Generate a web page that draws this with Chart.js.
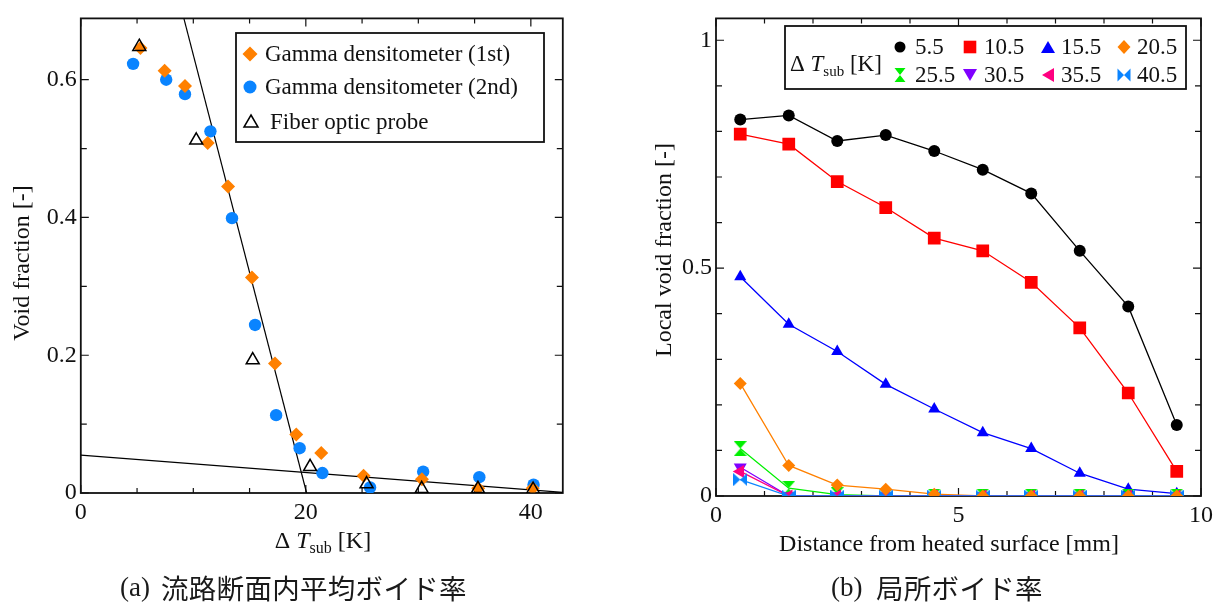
<!DOCTYPE html>
<html><head><meta charset="utf-8">
<script src="https://cdn.jsdelivr.net/npm/chart.js@4.4.0/dist/chart.umd.min.js"></script>
<style>
html,body{margin:0;padding:0;background:#fff;width:1218px;height:603px;overflow:hidden}
#wa{position:absolute;left:0;top:0;width:609px;height:603px}
#wb{position:absolute;left:609px;top:0;width:609px;height:603px}
.cap{position:absolute;top:570px;white-space:nowrap;line-height:34px;color:#1a1a1a}
.l{font-family:"Liberation Serif";font-size:27px}
.j{font-family:"Noto Sans CJK JP";font-size:27.5px;letter-spacing:0.3px}
</style></head><body>
<div id="wa"><canvas id="ca" width="609" height="603"></canvas></div>
<div id="wb"><canvas id="cb" width="609" height="603"></canvas></div>
<div class="cap l" style="left:120px">(a)</div>
<div class="cap j" style="left:161px">流路断面内平均ボイド率</div>
<div class="cap l" style="left:831px">(b)</div>
<div class="cap j" style="left:876px">局所ボイド率</div>
<script>
// ---------- Data: chart (a) ----------
const gamma1X = [5.3, 7.45, 9.26, 11.28, 13.09, 15.21, 17.26, 19.15, 21.37, 25.13, 30.32, 35.32, 40.17];
const gamma1Y = [0.646, 0.613, 0.591, 0.508, 0.445, 0.313, 0.188, 0.085, 0.058, 0.025, 0.020, 0.007, 0.007];
const gamma2X = [4.65, 7.59, 9.26, 11.52, 13.44, 15.49, 17.36, 19.45, 21.47, 25.71, 30.43, 35.42, 40.24];
const gamma2Y = [0.623, 0.600, 0.579, 0.525, 0.399, 0.244, 0.113, 0.065, 0.029, 0.008, 0.031, 0.023, 0.012];
const fiberX = [5.2, 10.26, 15.28, 20.38, 25.4, 30.3, 35.3, 40.2];
const fiberY = [0.648, 0.512, 0.193, 0.038, 0.013, 0.006, 0.006, 0.005];
const steepX = [9.16, 20.07];
const steepY = [0.689, 0];
const shallowX = [0, 42.84];
const shallowY = [0.055, 0.001];
const aXTicks = [0, 20, 40];
const aXMinor = [5, 10, 15, 25, 30, 35];
const aYTicks = [0, 0.2, 0.4, 0.6];
const aYMinor = [0.1, 0.3, 0.5];
const aLegend = ["Gamma densitometer (1st)", "Gamma densitometer (2nd)", "Fiber optic probe"];

// ---------- Data: chart (b) ----------
const distance = [0.5, 1.5, 2.5, 3.5, 4.5, 5.5, 6.5, 7.5, 8.5, 9.5];
const dT = ["5.5", "10.5", "15.5", "20.5", "25.5", "30.5", "35.5", "40.5"];
const v5_5  = [0.826, 0.835, 0.779, 0.792, 0.757, 0.716, 0.664, 0.538, 0.416, 0.156];
const v10_5 = [0.794, 0.772, 0.690, 0.633, 0.566, 0.538, 0.469, 0.369, 0.226, 0.054];
const v15_5 = [0.481, 0.377, 0.317, 0.245, 0.191, 0.139, 0.104, 0.050, 0.015, 0.005];
const v20_5 = [0.247, 0.067, 0.024, 0.015, 0.004, 0, 0, 0, 0, 0];
const v25_5 = [0.104, 0.017, 0.003, 0, 0, 0, 0, 0, 0, 0];
const v30_5 = [0.063, 0, 0, 0, 0, 0, 0, 0, 0, 0];
const v35_5 = [0.054, 0, 0, 0, 0, 0, 0, 0, 0, 0];
const v40_5 = [0.036, 0, 0, 0, 0, 0, 0, 0, 0, 0];
const bXTicks = [0, 5, 10];
const bXMinor = [1, 2, 3, 4, 6, 7, 8, 9];
const bYTicks = [0, 0.5, 1];
const bYMinor = [0.1, 0.2, 0.3, 0.4, 0.6, 0.7, 0.8, 0.9];

// ---------- helpers ----------
const SERIF = '"Liberation Serif", "Times New Roman", serif';
const INK = '#111';
const fmt = v => String(Math.round(v * 100) / 100);
const pts = (xs, ys) => xs.map((x, i) => ({x, y: ys[i]}));

function markerPath(ctx, type, x, y, hw, hh) {
  hh = hh || hw;
  ctx.beginPath();
  switch (type) {
    case 'circle': ctx.arc(x, y, hw, 0, Math.PI * 2); break;
    case 'square': ctx.rect(x - hw, y - hh, 2 * hw, 2 * hh); break;
    case 'diamond': ctx.moveTo(x, y - hh); ctx.lineTo(x + hw, y); ctx.lineTo(x, y + hh); ctx.lineTo(x - hw, y); ctx.closePath(); break;
    case 'tri': ctx.moveTo(x, y - hh); ctx.lineTo(x + hw, y + hh * 0.5); ctx.lineTo(x - hw, y + hh * 0.5); ctx.closePath(); break;
    case 'triDown': ctx.moveTo(x, y + hh); ctx.lineTo(x + hw, y - hh * 0.5); ctx.lineTo(x - hw, y - hh * 0.5); ctx.closePath(); break;
    case 'triLeft': ctx.moveTo(x - hw, y); ctx.lineTo(x + hw * 0.5, y - hh); ctx.lineTo(x + hw * 0.5, y + hh); ctx.closePath(); break;
    case 'hourglass': ctx.moveTo(x - hw, y - hh); ctx.lineTo(x + hw, y - hh); ctx.lineTo(x - hw, y + hh); ctx.lineTo(x + hw, y + hh); ctx.closePath(); break;
    case 'bowtie': ctx.moveTo(x - hw, y - hh); ctx.lineTo(x - hw, y + hh); ctx.lineTo(x + hw, y - hh); ctx.lineTo(x + hw, y + hh); ctx.closePath(); break;
  }
}
function markerImg(type, w, h, color) {
  const c = document.createElement('canvas');
  c.width = w; c.height = h;
  const g = c.getContext('2d');
  g.fillStyle = color;
  markerPath(g, type, w / 2, h / 2, w / 2, h / 2);
  g.fill();
  return c;
}
function drawDT(ctx, x, baseline, size, align) {
  const parts = [
    {t: 'Δ ', f: `${size}px ${SERIF}`, dy: 0},
    {t: 'T', f: `italic ${size}px ${SERIF}`, dy: 0},
    {t: 'sub', f: `${Math.round(size * 0.65)}px ${SERIF}`, dy: size * 0.22},
    {t: ' [K]', f: `${size}px ${SERIF}`, dy: 0}
  ];
  let total = 0;
  parts.forEach(p => { ctx.font = p.f; p.w = ctx.measureText(p.t).width; total += p.w; });
  let cx = align === 'center' ? x - total / 2 : x;
  ctx.textAlign = 'left'; ctx.textBaseline = 'alphabetic';
  parts.forEach(p => { ctx.font = p.f; ctx.fillText(p.t, cx, baseline + p.dy); cx += p.w; });
}
function frameTicksPlugin(xMaj, xMin, yMaj, yMin) {
  return {
    id: 'frameTicks',
    beforeDatasetsDraw(chart) {
      const {ctx, chartArea: a, scales: {x, y}} = chart;
      ctx.save();
      ctx.strokeStyle = INK; ctx.lineWidth = 1.2;
      const tx = (vals, len) => vals.forEach(v => {
        const p = x.getPixelForValue(v);
        ctx.beginPath(); ctx.moveTo(p, a.bottom); ctx.lineTo(p, a.bottom - len);
        ctx.moveTo(p, a.top); ctx.lineTo(p, a.top + len); ctx.stroke();
      });
      const ty = (vals, len) => vals.forEach(v => {
        const p = y.getPixelForValue(v);
        ctx.beginPath(); ctx.moveTo(a.left, p); ctx.lineTo(a.left + len, p);
        ctx.moveTo(a.right, p); ctx.lineTo(a.right - len, p); ctx.stroke();
      });
      tx(xMaj, 8); tx(xMin, 5); ty(yMaj, 8); ty(yMin, 6);
      ctx.lineWidth = 1.8;
      ctx.strokeRect(a.left, a.top, a.right - a.left, a.bottom - a.top);
      ctx.restore();
    }
  };
}
function scaleCfg(min, max, ticks, size, afterFit, pad) {
  return {
    type: 'linear', min, max,
    grid: {display: false, drawTicks: false}, border: {display: false},
    afterBuildTicks: s => { s.ticks = ticks.map(v => ({value: v})); },
    afterFit,
    ticks: {padding: pad, color: INK, font: {family: SERIF, size}, maxRotation: 0, autoSkip: false, callback: fmt}
  };
}

// ---------- Chart (a) ----------
const textA = {
  id: 'textA',
  afterDatasetsDraw(chart) {
    const ctx = chart.ctx;
    ctx.save();
    ctx.fillStyle = INK;
    ctx.save(); ctx.translate(23, 263); ctx.rotate(-Math.PI / 2);
    ctx.font = `24px ${SERIF}`; ctx.textAlign = 'center'; ctx.textBaseline = 'middle';
    ctx.fillText('Void fraction [-]', 0, 0); ctx.restore();
    drawDT(ctx, 323, 548, 24, 'center');
    ctx.fillStyle = '#fff'; ctx.fillRect(236, 33, 308, 109);
    ctx.strokeStyle = INK; ctx.lineWidth = 1.8; ctx.strokeRect(236, 33, 308, 109);
    ctx.fillStyle = '#FF8000'; markerPath(ctx, 'diamond', 250, 54, 7.5, 7.5); ctx.fill();
    ctx.fillStyle = '#0A84FF'; markerPath(ctx, 'circle', 250, 87, 6.5); ctx.fill();
    ctx.strokeStyle = '#000'; ctx.lineWidth = 1.5; markerPath(ctx, 'tri', 251, 123, 7, 8); ctx.stroke();
    ctx.fillStyle = INK; ctx.font = `23px ${SERIF}`; ctx.textAlign = 'left'; ctx.textBaseline = 'alphabetic';
    ctx.fillText(aLegend[0], 265, 61);
    ctx.fillText(aLegend[1], 265, 94);
    ctx.fillText(aLegend[2], 270, 129);
    ctx.restore();
  }
};
new Chart(document.getElementById('ca'), {
  type: 'scatter',
  data: {datasets: [
    {data: pts(fiberX, fiberY), pointStyle: 'triangle', pointRadius: 7.5, backgroundColor: 'rgba(0,0,0,0)', borderColor: '#000', pointBorderWidth: 1.5, order: 0},
    {data: pts(gamma1X, gamma1Y), pointStyle: 'rectRot', pointRadius: 7, backgroundColor: '#FF8000', borderColor: '#FF8000', pointBorderWidth: 0, order: 1},
    {data: pts(gamma2X, gamma2Y), pointStyle: 'circle', pointRadius: 6.2, backgroundColor: '#0A84FF', borderColor: '#0A84FF', pointBorderWidth: 0, order: 2},
    {data: pts(steepX, steepY), showLine: true, pointRadius: 0, borderColor: '#000', borderWidth: 1.2, order: 3},
    {data: pts(shallowX, shallowY), showLine: true, pointRadius: 0, borderColor: '#000', borderWidth: 1.2, order: 4}
  ]},
  options: {
    responsive: false, animation: false, events: [],
    layout: {padding: {left: 0, top: 13, right: 46.2, bottom: 70}},
    plugins: {legend: {display: false}, tooltip: {enabled: false}},
    scales: {
      x: scaleCfg(0, 42.84, aXTicks, 24, s => { s.height = 40; }, 5),
      y: scaleCfg(0, 0.689, aYTicks, 24, s => { s.width = 80.8; }, 4)
    }
  },
  plugins: [frameTicksPlugin(aXTicks, aXMinor, aYTicks, aYMinor), textA]
});

// ---------- Chart (b) ----------
const seriesB = [
  {v: v5_5,  c: '#000000', st: 'circle', r: 6, leg: 'circle'},
  {v: v10_5, c: '#FF0000', st: 'rect', r: 9, leg: 'square'},
  {v: v15_5, c: '#0000FF', st: 'triangle', r: 7, leg: 'tri'},
  {v: v20_5, c: '#FF8000', st: 'rectRot', r: 6.5, leg: 'diamond'},
  {v: v25_5, c: '#00F000', st: markerImg('hourglass', 13, 15, '#00F000'), r: 7, leg: 'hourglass'},
  {v: v30_5, c: '#8000FF', st: 'triangle', rot: 180, r: 7.5, leg: 'triDown'},
  {v: v35_5, c: '#FF0080', st: 'triangle', rot: -90, r: 7.5, leg: 'triLeft'},
  {v: v40_5, c: '#0A84FF', st: markerImg('bowtie', 14, 13, '#0A84FF'), r: 7, leg: 'bowtie'}
];
const markerOrder = [7, 6, 5, 0, 4, 3, 2, 1];
const dsB = [];
seriesB.forEach((s, i) => {
  dsB.push({data: pts(distance, s.v), showLine: true, pointRadius: 0, borderColor: s.c, borderWidth: 1.3, order: 20 + (7 - i)});
  dsB.push({data: pts(distance, s.v), showLine: false, pointStyle: s.st, pointRotation: s.rot || 0, pointRadius: s.r,
    backgroundColor: s.c, borderColor: s.c, pointBorderWidth: 0, order: markerOrder[i]});
});
const textB = {
  id: 'textB',
  afterDatasetsDraw(chart) {
    const ctx = chart.ctx;
    ctx.save();
    ctx.fillStyle = INK;
    ctx.save(); ctx.translate(56, 250); ctx.rotate(-Math.PI / 2);
    ctx.font = `24px ${SERIF}`; ctx.textAlign = 'center'; ctx.textBaseline = 'middle';
    ctx.fillText('Local void fraction [-]', 0, 0); ctx.restore();
    ctx.font = `24px ${SERIF}`; ctx.textAlign = 'center'; ctx.textBaseline = 'alphabetic';
    ctx.fillText('Distance from heated surface [mm]', 340, 551);
    ctx.fillStyle = '#fff'; ctx.fillRect(176, 26, 401, 63);
    ctx.strokeStyle = INK; ctx.lineWidth = 1.8; ctx.strokeRect(176, 26, 401, 63);
    ctx.fillStyle = INK;
    drawDT(ctx, 181, 71, 23, 'left');
    const mx = [291, 361, 439, 515], tx = [306, 375, 452, 528], my = [47, 75];
    const sz = {circle: [5.5, 5.5], square: [6.3, 6.3], tri: [7, 8], diamond: [6.5, 7], hourglass: [5.5, 7], triDown: [7, 8], triLeft: [8, 7], bowtie: [6.5, 6.5]};
    seriesB.forEach((s, i) => {
      const col = i % 4, row = Math.floor(i / 4);
      const yy = s.leg === 'tri' ? my[row] + 2 : (s.leg === 'triDown' ? my[row] - 2 : my[row]);
      const xx = s.leg === 'triLeft' ? mx[col] + 2 : mx[col];
      ctx.fillStyle = s.c;
      markerPath(ctx, s.leg, xx, yy, sz[s.leg][0], sz[s.leg][1]);
      ctx.fill();
      ctx.fillStyle = INK; ctx.font = `23px ${SERIF}`; ctx.textAlign = 'left'; ctx.textBaseline = 'alphabetic';
      ctx.fillText(dT[i], tx[col], my[row] + 7);
    });
    ctx.restore();
  }
};
new Chart(document.getElementById('cb'), {
  type: 'scatter',
  data: {datasets: dsB},
  options: {
    responsive: false, animation: false, events: [],
    layout: {padding: {left: 0, top: 13, right: 13, bottom: 67}},
    plugins: {legend: {display: false}, tooltip: {enabled: false}},
    scales: {
      x: scaleCfg(0, 10, bXTicks, 24, s => { s.height = 40; }, 5),
      y: scaleCfg(0, 1.048, bYTicks, 24, s => { s.width = 107; }, 4)
    }
  },
  plugins: [frameTicksPlugin(bXTicks, bXMinor, bYTicks, bYMinor), textB]
});
</script>
</body></html>
